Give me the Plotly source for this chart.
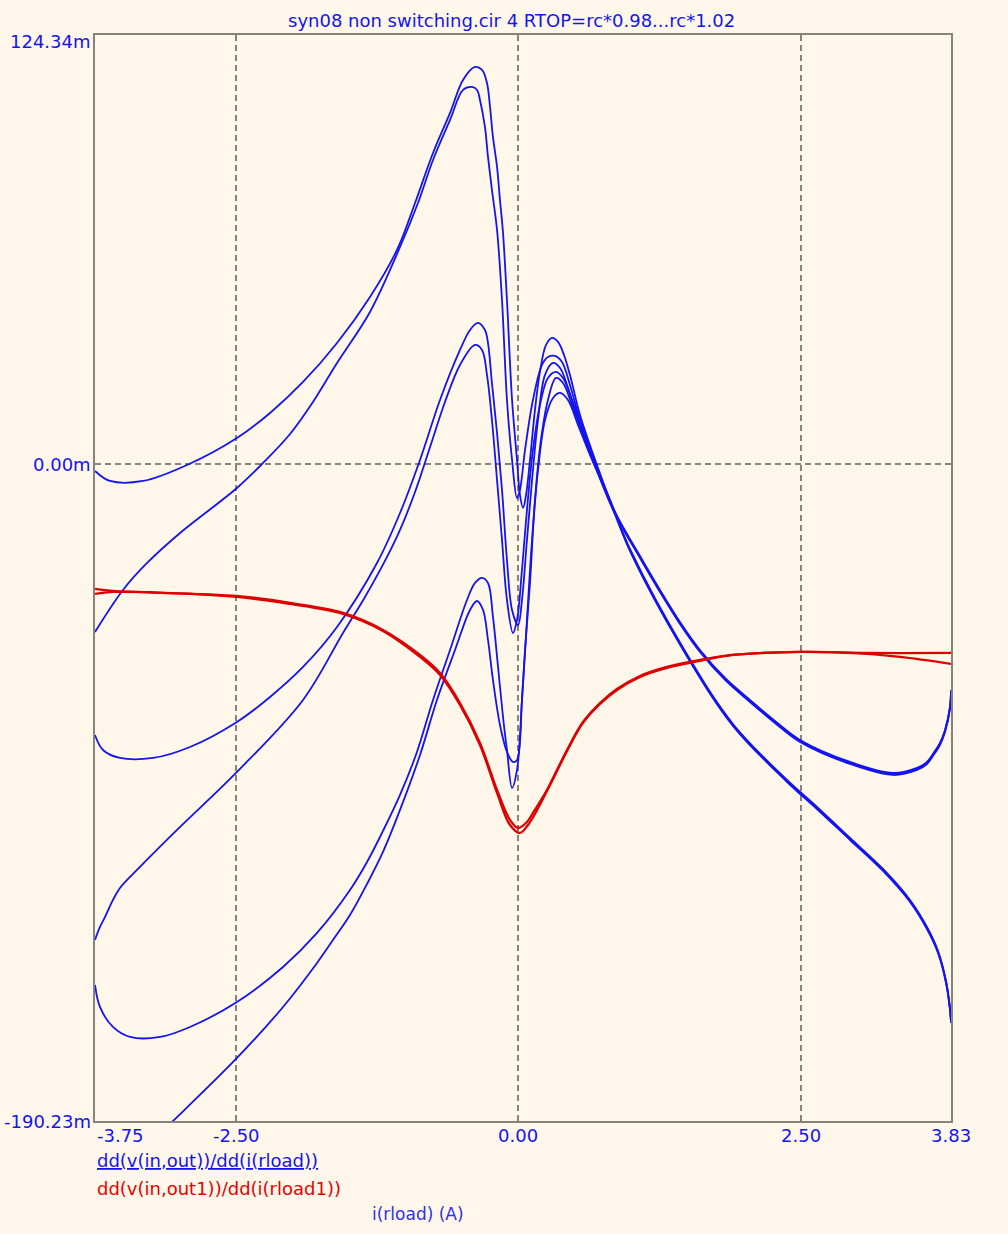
import plotly.graph_objects as go

# ---------------- data (x in A, y in milli-units) ----------------
a1_x = [-3.750, -3.617, -3.325, -2.935, -2.493, -2.200, -1.908, -1.607, -1.315, -1.076, -0.916, -0.757, -0.606, -0.491,
        -0.385, -0.323, -0.279, -0.252, -0.226, -0.190, -0.164, -0.137, -0.102, -0.057, -0.013, 0.013, 0.040, 0.067,
        0.102, 0.146, 0.190, 0.244, 0.297, 0.350, 0.403, 0.456, 0.545, 0.695, 0.855,
        1.076, 1.253, 1.430, 1.607, 1.829, 2.050, 2.271, 2.493, 2.936, 3.316, 3.529, 3.617, 3.670, 3.732, 3.777, 3.821, 3.830]
a1_y = [-1.94, -4.84, -4.84, -0.20, 7.62, 14.86, 23.84, 35.14, 48.46, 62.07, 75.69, 90.17, 101.76, 111.32,
        115.08, 114.21, 110.45, 103.49, 94.81, 86.12, 76.56, 67.00, 47.59, 18.62, 1.25, -8.89, -12.66, -8.89,
        1.25, 15.73, 26.74, 34.56, 36.58, 35.43, 31.66, 25.87, 14.28, -0.20, -13.82,
        -26.56, -36.41, -45.68, -53.79, -61.90, -68.27, -74.35, -79.86, -86.23, -89.42, -87.97, -86.23, -83.91, -80.73, -76.96, -70.30, -65.38]

a2_x = [-3.750, -3.502, -3.289, -2.997, -2.493, -2.262, -2.023, -1.820, -1.607, -1.315, -1.049, -0.890, -0.757, -0.606, -0.491,
        -0.412, -0.367, -0.341, -0.297, -0.270, -0.235, -0.190, -0.146, -0.102, -0.057, -0.013, 0.013, 0.058, 0.128,
        0.208, 0.261, 0.323, 0.385, 0.456, 0.545, 0.695, 0.828,
        0.987, 1.474, 1.899, 2.369, 2.643, 2.936, 3.228, 3.467, 3.617, 3.715, 3.786, 3.821, 3.830]
a2_y = [-48.58, -36.41, -28.59, -19.90, -6.86, 0.38, 8.78, 18.05, 29.34, 44.12, 62.94, 75.69, 88.14, 99.73, 108.42,
        109.29, 108.42, 105.52, 97.70, 89.01, 79.45, 67.87, 47.59, 18.62, 1.25, -9.76, -7.44, 4.14, 18.62,
        28.76, 31.08, 31.37, 29.63, 22.97, 12.83, -0.78, -11.79,
        -24.53, -54.08, -75.22, -91.16, -99.27, -108.25, -117.22, -126.20, -134.03, -140.98, -149.67, -157.49, -161.25]

b1_x = [-3.750, -3.679, -3.529, -3.236, -2.909, -2.493, -2.200, -1.908, -1.607, -1.253, -1.049, -0.872, -0.695, -0.518,
        -0.429, -0.359, -0.297, -0.270, -0.235, -0.190, -0.146, -0.102, -0.057, -0.004, 0.031, 0.075, 0.120, 0.173,
        0.235, 0.306, 0.368, 0.430, 0.545, 0.695, 0.855,
        1.076, 1.253, 1.430, 1.607, 1.829, 2.050, 2.271, 2.493, 2.936, 3.316, 3.529, 3.617, 3.670, 3.732, 3.777, 3.821, 3.830]
b1_y = [-78.41, -82.76, -85.07, -85.07, -81.89, -74.64, -67.40, -58.71, -47.13, -28.59, -14.11, 1.25, 18.62, 33.11,
        38.90, 40.93, 38.90, 35.14, 23.55, 9.07, -7.44, -27.72, -42.20, -46.55, -39.31, -21.93, -4.55, 12.83,
        25.87, 29.34, 27.89, 22.97, 11.38, -1.07, -14.11,
        -26.85, -36.70, -45.97, -54.08, -62.19, -68.56, -74.64, -80.15, -86.52, -89.71, -88.26, -86.52, -84.20, -81.02, -77.25, -70.59, -65.67]

b2_x = [-3.750, -3.706, -3.661, -3.591, -3.529, -3.352, -3.024, -2.493, -1.908, -1.554, -1.359, -1.164, -1.049, -0.916, -0.783,
        -0.651, -0.518, -0.385, -0.323,
        -0.279, -0.235, -0.190, -0.146, -0.102, -0.049, -0.013, 0.031, 0.075, 0.128, 0.190, 0.261, 0.332, 0.394,
        0.474, 0.589, 0.695, 0.828,
        0.987, 1.474, 1.899, 2.369, 2.643, 2.936, 3.228, 3.467, 3.617, 3.715, 3.786, 3.821, 3.830]
b2_y = [-137.79, -134.03, -131.13, -126.20, -122.73, -116.65, -105.93, -89.13, -68.27, -48.87, -38.44, -26.85, -19.03, -8.02, 5.01,
        18.05, 28.76, 34.56, 33.11,
        25.87, 12.83, -4.55, -21.93, -39.31, -48.87, -45.10, -30.62, -13.24, 4.14, 17.18, 25.00, 26.74, 25.00,
        18.62, 8.49, -1.65, -12.37,
        -24.82, -54.37, -75.51, -91.45, -99.56, -108.54, -117.51, -126.49, -134.32, -141.27, -149.96, -157.78, -161.54]

c1_x = [-3.750, -3.706, -3.591, -3.440, -3.174, -2.909, -2.493, -2.085, -1.784, -1.492, -1.341, -1.200, -1.049, -0.899, -0.757, -0.606,
        -0.456, -0.385, -0.323, -0.270, -0.226, -0.181, -0.137, -0.102, -0.057, -0.013, 0.031, 0.058, 0.102, 0.146,
        0.199, 0.261, 0.332, 0.394, 0.474, 0.589, 0.695, 0.855,
        1.076, 1.253, 1.430, 1.607, 1.829, 2.050, 2.271, 2.493, 2.936, 3.316, 3.529, 3.617, 3.670, 3.732, 3.777, 3.821, 3.830]
c1_y = [-150.82, -157.20, -162.99, -165.89, -165.89, -162.99, -155.75, -145.61, -135.76, -123.31, -115.20, -106.22, -95.79, -83.33, -68.27, -53.79,
        -39.31, -34.38, -32.93, -34.38, -44.23, -58.71, -73.20, -82.76, -93.76, -88.55, -68.27, -53.79, -34.38, -10.34,
        7.04, 18.62, 25.00, 23.55, 17.18, 7.04, -1.94, -14.40,
        -27.14, -36.99, -46.26, -54.37, -62.48, -68.85, -74.93, -80.44, -86.81, -90.00, -88.55, -86.81, -84.49, -81.31, -77.54, -70.88, -65.96]

c2_x = [-3.263, -3.059, -2.493, -2.085, -1.784, -1.643, -1.492, -1.341, -1.200, -1.049, -0.872, -0.722, -0.562, -0.429, -0.367, -0.314,
        -0.270, -0.226, -0.164, -0.102, -0.049, -0.013, 0.031, 0.075, 0.120, 0.173, 0.235, 0.306, 0.368, 0.438,
        0.527, 0.633, 0.722, 0.855,
        0.987, 1.474, 1.899, 2.369, 2.643, 2.936, 3.228, 3.467, 3.617, 3.715, 3.786, 3.821, 3.830]
c2_y = [-196.60, -190.22, -171.97, -157.20, -144.45, -137.79, -130.55, -121.57, -112.30, -100.13, -84.20, -68.27, -53.79, -42.20, -39.60, -42.20,
        -50.89, -62.48, -75.51, -83.33, -86.23, -85.65, -68.27, -45.10, -21.93, -1.65, 12.83, 19.20, 20.65, 18.62,
        11.38, 2.69, -3.97, -14.11,
        -25.11, -54.66, -75.80, -91.74, -99.85, -108.83, -117.80, -126.78, -134.61, -141.56, -150.25, -158.07, -161.83]

r1_x = [-3.750, -3.591, -2.493, -2.023, -1.554, -1.200, -0.872, -0.695, -0.518, -0.341, -0.190, -0.075, -0.004, 0.075,
        0.128, 0.252, 0.306, 0.430, 0.571, 0.722, 0.872, 1.076, 1.315, 1.607, 1.899, 2.493, 2.936, 3.378, 3.830]
r1_y = [-36.12, -36.70, -38.15, -40.18, -43.07, -48.00, -55.24, -60.45, -69.14, -80.73, -94.34, -103.03, -105.35, -103.61,
        -101.00, -94.34, -90.87, -82.76, -74.64, -69.14, -65.09, -61.32, -58.71, -56.69, -55.24, -54.37, -54.66, -55.82, -57.84]

r2_x = [-3.750, -3.591, -2.493, -2.023, -1.554, -1.200, -0.872, -0.695, -0.518, -0.341, -0.190, -0.075, 0.013, 0.084,
        0.146, 0.252, 0.306, 0.430, 0.571, 0.722, 0.872, 1.076, 1.315, 1.607, 1.899, 2.493, 3.086, 3.830]
r2_y = [-37.57, -36.99, -38.44, -40.47, -43.36, -48.29, -55.82, -61.03, -69.72, -81.31, -95.21, -104.48, -106.80, -104.48,
        -101.29, -94.63, -91.16, -83.05, -74.93, -69.43, -65.38, -61.61, -59.00, -56.98, -55.24, -54.37, -54.66, -54.66]

x_tick_vals = [-3.75, -2.50, 0.00, 2.50, 3.83]
x_tick_text = ["-3.75", "-2.50", "0.00", "2.50", "3.83"]
y_tick_vals = [124.34, 0.00, -190.23]
y_tick_text = ["124.34m", "0.00m", "-190.23m"]

title_text = "syn08 non switching.cir 4 RTOP=rc*0.98...rc*1.02"
legend_blue = "dd(v(in,out))/dd(i(rload))"
legend_red = "dd(v(in,out1))/dd(i(rload1))"
x_title = "i(rload) (A)"

# ---------------- styling ----------------
BG = "#FFF7EA"
BLUE = "#1414F0"
RED = "#DD0000"
GRID = "#85837C"
FONT = "DejaVu Sans"

fig = go.Figure()
for xs, ys in [(a1_x, a1_y), (a2_x, a2_y), (b1_x, b1_y), (b2_x, b2_y), (c1_x, c1_y), (c2_x, c2_y)]:
    fig.add_trace(go.Scatter(x=xs, y=ys, mode="lines",
                             line=dict(color=BLUE, width=1.8, shape="spline", smoothing=1.0),
                             showlegend=False, hoverinfo="skip"))
for xs, ys in [(r1_x, r1_y), (r2_x, r2_y)]:
    fig.add_trace(go.Scatter(x=xs, y=ys, mode="lines",
                             line=dict(color=RED, width=2.3, shape="spline", smoothing=1.0),
                             showlegend=False, hoverinfo="skip"))

fig.update_layout(
    width=1008, height=1234,
    paper_bgcolor=BG, plot_bgcolor=BG,
    margin=dict(l=95, r=57, t=35, b=113),
    showlegend=False,
    font=dict(family=FONT, size=17, color=BLUE),
)
fig.update_xaxes(range=[x_tick_vals[0], x_tick_vals[-1]], showticklabels=False, ticks="",
                 tickvals=[-2.5, 0, 2.5], showgrid=True, gridcolor=GRID, gridwidth=2, griddash="6px,4px",
                 zeroline=False, showline=True, linecolor=GRID, linewidth=2, mirror=True)
fig.update_yaxes(range=[y_tick_vals[-1], y_tick_vals[0]], showticklabels=False, ticks="",
                 tickvals=[0], showgrid=True, gridcolor=GRID, gridwidth=2, griddash="6px,4px",
                 zeroline=False, showline=True, linecolor=GRID, linewidth=2, mirror=True)

# x tick labels
for i, (v, t) in enumerate(zip(x_tick_vals, x_tick_text)):
    fig.add_annotation(x=v, y=0, xref="x", yref="paper", text=t, showarrow=False,
                       xanchor="left" if i == 0 else "center", yanchor="top", yshift=-2,
                       font=dict(family=FONT, size=18, color=BLUE))
# y tick labels
y_shifts = [-6, 0, 0]
for v, t, s in zip(y_tick_vals, y_tick_text, y_shifts):
    fig.add_annotation(x=0, y=v, xref="paper", yref="y", text=t, showarrow=False,
                       xanchor="right", yanchor="middle", xshift=-2, yshift=s,
                       font=dict(family=FONT, size=18, color=BLUE))

fig.add_annotation(x=0.487, y=1.0138, xref="paper", yref="paper", text=title_text, showarrow=False,
                   xanchor="center", yanchor="middle", font=dict(family=FONT, size=18, color=BLUE))
fig.add_annotation(x=0, y=-0.0368, xref="paper", yref="paper", text="<u>" + legend_blue + "</u>", showarrow=False,
                   xanchor="left", yanchor="middle", font=dict(family=FONT, size=18, color=BLUE))
fig.add_annotation(x=0, y=-0.0617, xref="paper", yref="paper", text=legend_red, showarrow=False,
                   xanchor="left", yanchor="middle", font=dict(family=FONT, size=18, color="#E80000"))
fig.add_annotation(x=0.377, y=-0.0856, xref="paper", yref="paper", text=x_title, showarrow=False,
                   xanchor="center", yanchor="middle", font=dict(family=FONT, size=17, color="#3030F0"))

fig.write_html("out.html", config={"displayModeBar": False},
               post_script="document.body.style.margin='0';document.body.style.padding='0';"
                           "document.body.style.background='" + BG + "';")
